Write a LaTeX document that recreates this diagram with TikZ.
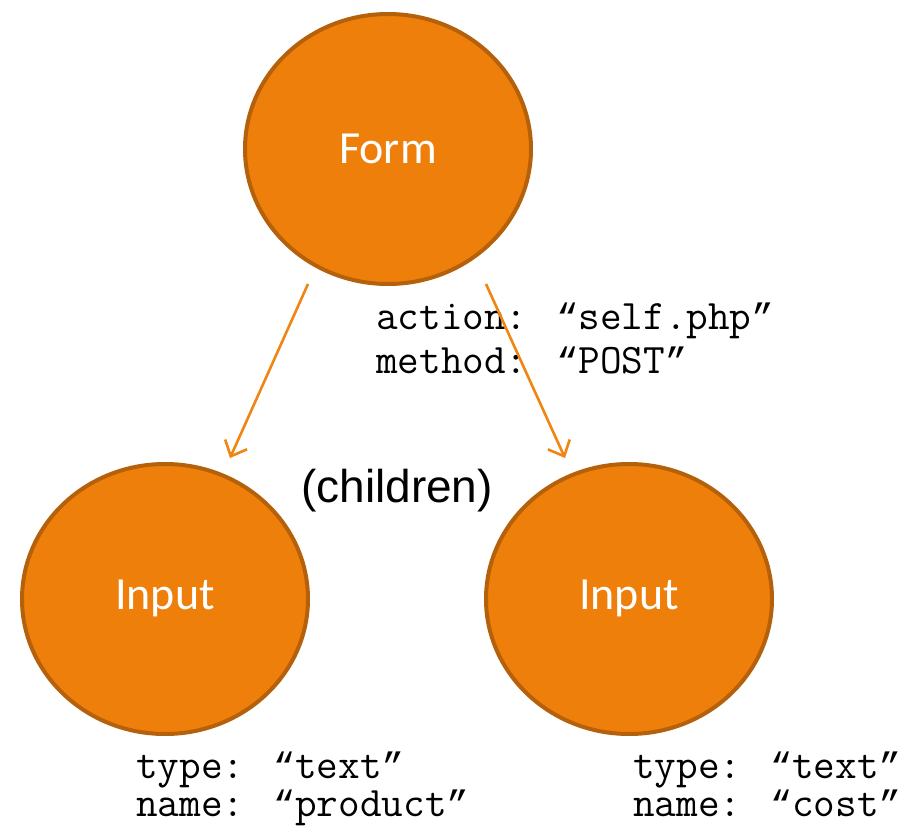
\documentclass[tikz,border=0pt]{standalone}
\usepackage{fontspec}
\setmainfont{Liberation Sans}
\newfontfamily\calibrifont{Carlito}
\newfontfamily\qfont{Liberation Mono}
\newcommand\myoq{{\qfont\fontsize{36.75}{44}\selectfont “}}
\newcommand\mycq{{\qfont\fontsize{36.75}{44}\selectfont ”}}
\usetikzlibrary{shapes.geometric,arrows.meta}
\definecolor{orfill}{HTML}{EF7F0B}
\definecolor{ordraw}{HTML}{B5600A}
\definecolor{orline}{HTML}{F08512}
\begin{document}
\begin{tikzpicture}[x=1pt,y=-1pt,
  bubble/.style={ellipse,draw=ordraw,fill=orfill,line width=4pt,minimum width=286pt,minimum height=270pt,inner sep=0pt,text=white,font=\calibrifont\fontsize{46}{50}\selectfont},
  link/.style={draw=orline,line width=2.6pt,-{Straight Barb[length=13pt,width=24pt,line width=2.6pt]}},
  code/.style={anchor=base west,inner sep=0pt,align=left,font=\ttfamily\fontsize{42}{44}\selectfont}]
\useasboundingbox (0,0) rectangle (906,827);
\node[bubble] (form) at (388,149) {Form};
\node[bubble] (in1) at (165,599) {\strut Input};
\node[bubble] (in2) at (629,599) {\strut Input};
\coordinate (s1) at (308,284);
\coordinate (e1) at (230,458);
\coordinate (s2) at (486,284);
\coordinate (e2) at (565,458);
\node[code] (attr) at (376,329) {action: \myoq self.php\mycq};
\node[code] (meth) at (376,373) {method: \myoq POST\mycq};
\draw[link] (s1) -- (e1);
\draw[link] (s2) -- (e2);
\node[anchor=base,inner sep=0pt,font=\fontsize{46}{50}\selectfont] (ch) at (397,502) {(children)};
\node[code] (t1) at (136,778) {type: \myoq text\mycq};
\node[code] (n1) at (136,816) {name: \myoq product\mycq};
\node[code] (t2) at (633,778) {type: \myoq text\mycq};
\node[code] (n2) at (633,816) {name: \myoq cost\mycq};
\end{tikzpicture}
\end{document}
